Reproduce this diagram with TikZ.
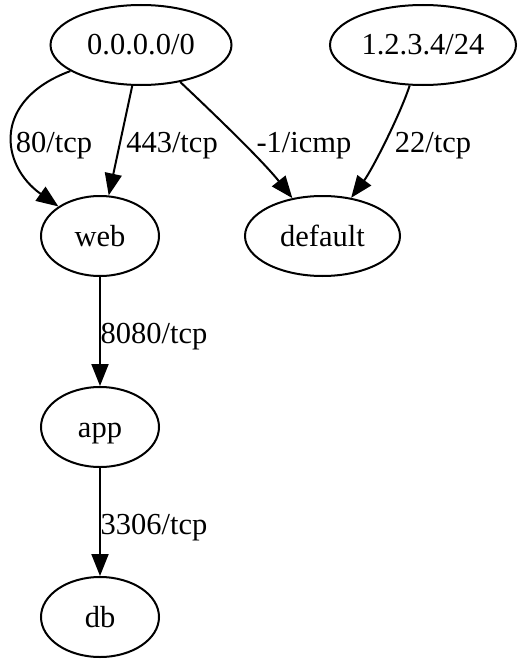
\documentclass[tikz,border=0pt]{standalone}
\usepackage{fontspec}
\setmainfont{Liberation Serif}
\usetikzlibrary{shapes.geometric,arrows.meta}

\tikzset{
  txt/.style={font=\fontsize{30.5}{35}\selectfont, text height=25pt, text depth=5pt},
  host/.style={ellipse, draw=black, line width=2pt, inner sep=0pt,
    minimum height=80pt, txt},
  lbl/.style={inner sep=0pt, txt},
  rule/.style={draw=black, line width=2pt,
    -{Triangle[length=22pt,width=17pt]}},
}

\begin{document}
\begin{tikzpicture}[x=1pt,y=-1pt]
  \useasboundingbox (0,0) rectangle (518,661);

  % sources
  \node[host, minimum width=181pt] (any)  at (141,45)  {0.0.0.0/0};
  \node[host, minimum width=186pt] (net)  at (423,45)  {1.2.3.4/24};
  % security groups
  \node[host, minimum width=118pt] (web)  at (100,236) {web};
  \node[host, minimum width=155pt] (dflt) at (322.5,236) {default};
  \node[host, minimum width=118pt] (app)  at (100,427) {app};
  \node[host, minimum width=118pt] (db)   at (100,617) {db};

  % ingress rules
  \draw[rule] (any) .. controls (-8,100) and (0,165) .. (web);
  \draw[rule] (any) -- (web);
  \draw[rule] (any) .. controls (212,112) and (262,160) .. (dflt);
  \draw[rule] (net) .. controls (400,115) and (372,170) .. (dflt);
  \draw[rule] (web) -- (app);
  \draw[rule] (app) -- (db);

  % rule labels
  \node[lbl] (l80)   at (54,142)  {80/tcp};
  \node[lbl] (l443)  at (172,142) {443/tcp};
  \node[lbl] (licmp) at (304,142) {-1/icmp};
  \node[lbl] (l22)   at (433,142) {22/tcp};
  \node[lbl] (l8080) at (154,333) {8080/tcp};
  \node[lbl] (l3306) at (154,524) {3306/tcp};
\end{tikzpicture}
\end{document}
